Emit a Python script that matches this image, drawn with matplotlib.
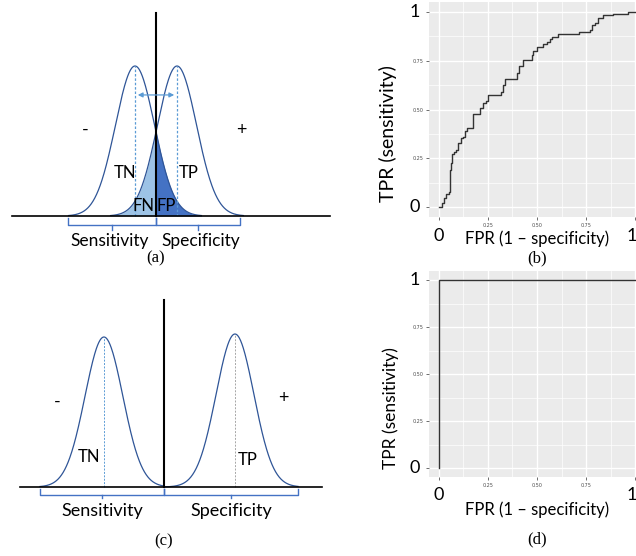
import numpy as np
import matplotlib.pyplot as plt
from matplotlib.ticker import MultipleLocator

# ---- data ----
# (a) overlapping distributions, threshold at 0
a_means = [-1.0, 1.0]
a_sigma = 0.93
a_brackets = [(-4.19, 0.0), (0.0, 4.0)]
a_label_x = [-2.2, 2.15]
# (c) separated distributions
c_means = [-2.86, 3.38]
c_peaks = [1.0, 1.02]
c_sigma = 0.9
c_brackets = [(-5.9, 0.0), (0.0, 6.38)]
bracket_labels = ['Sensitivity', 'Specificity']

# (b) ROC curve
fpr_b = [0, 0.014, 0.026, 0.039, 0.051, 0.056, 0.061, 0.066, 0.077, 0.09, 0.099,
         0.111, 0.124, 0.133, 0.145, 0.175, 0.175, 0.206, 0.209, 0.226, 0.24, 0.252,
         0.3, 0.315, 0.328, 0.338, 0.383, 0.4, 0.41, 0.427, 0.464, 0.473, 0.481,
         0.498, 0.524, 0.532, 0.553, 0.566, 0.578, 0.609, 0.672, 0.714, 0.77, 0.779,
         0.796, 0.813, 0.835, 0.889, 0.961, 1.0]
tpr_b = [0, 0.022, 0.045, 0.07, 0.078, 0.19, 0.224, 0.27, 0.284, 0.292, 0.33,
         0.352, 0.36, 0.391, 0.403, 0.403, 0.477, 0.477, 0.509, 0.532, 0.545, 0.574,
         0.574, 0.591, 0.626, 0.655, 0.655, 0.686, 0.723, 0.752, 0.752, 0.779, 0.8,
         0.822, 0.822, 0.834, 0.843, 0.86, 0.873, 0.885, 0.885, 0.899, 0.908, 0.933,
         0.945, 0.968, 0.981, 0.99, 1.0, 1.0]
# (d) perfect classifier
fpr_d = [0, 0, 1]
tpr_d = [0, 1, 1]
roc_ticks = [0, 0.25, 0.5, 0.75, 1]
roc_ticklabels = ['', '0.25', '0.50', '0.75', '']

LINE = '#2F5597'
LIGHT = '#9DC3E6'
DARK = '#4472C4'
DASH = '#5B9BD5'
SANS = 'Lato'
SERIF = 'Liberation Serif'


def gauss(x, m, s, h=1.0):
    return h * np.exp(-(x - m) ** 2 / (2 * s ** 2))


def bracket(ax, x0, x1, y, ytop, ybot):
    xm = (x0 + x1) / 2
    ax.plot([x0, x0, x1, x1], [ytop, y, y, ytop], color=DARK, lw=1.0)
    ax.plot([xm, xm], [y, ybot], color=DARK, lw=1.0)


fig = plt.figure(figsize=(6.36, 5.56), dpi=100)

# ---------- (a) ----------
ax = fig.add_axes([0, 1 - 270 / 556, 340 / 636, 270 / 556])
ax.set_xlim(-156 / 21, 184 / 21)
ax.set_ylim(-54 / 150, 216 / 150)
ax.axis('off')
xl = np.linspace(a_means[0] - 3.4 * a_sigma, a_means[0] + 3.4 * a_sigma, 300)
xr = np.linspace(a_means[1] - 3.4 * a_sigma, a_means[1] + 3.4 * a_sigma, 300)
yl = gauss(xl, a_means[0], a_sigma)
yr = gauss(xr, a_means[1], a_sigma)
ax.fill_between(xr, yr, where=xr <= 0, color=LIGHT, lw=0)
ax.fill_between(xl, yl, where=xl >= 0, color=DARK, lw=0)
ax.plot(xl, yl, color=LINE, lw=0.9)
ax.plot(xr, yr, color=LINE, lw=0.9)
for m in a_means:
    ax.plot([m, m], [0, 1], color=DASH, lw=0.9, ls=(0, (2, 1.5)))
ax.annotate('', xy=(a_means[1], 0.807), xytext=(a_means[0], 0.807),
            arrowprops=dict(arrowstyle='<|-|>', color=DASH, lw=0.9, mutation_scale=7))
ax.plot([-6.86, 8.3], [0, 0], color='black', lw=1.2)
ax.plot([0, 0], [0, 1.353], color='black', lw=1.5)
for (x0, x1), lx, lab in zip(a_brackets, a_label_x, bracket_labels):
    bracket(ax, x0, x1, -0.06, -0.013, -0.095)
    ax.text(lx, -0.165, lab, ha='center', va='center', fontsize=12.5, family=SANS)
ax.text(-3.38, 0.573, '-', ha='center', va='center', fontsize=13, family=SANS)
ax.text(4.05, 0.573, '+', ha='center', va='center', fontsize=13, family=SANS)
ax.text(-1.48, 0.287, 'TN', ha='center', va='center', fontsize=12, family=SANS)
ax.text(1.55, 0.287, 'TP', ha='center', va='center', fontsize=12, family=SANS)
ax.text(-0.6, 0.067, 'FN', ha='center', va='center', fontsize=12, family=SANS)
ax.text(0.5, 0.067, 'FP', ha='center', va='center', fontsize=12, family=SANS)
ax.text(0, -0.28, '(a)', ha='center', va='center', fontsize=12, family=SERIF)

# ---------- (c) ----------
ax = fig.add_axes([0, 0, 340 / 636, 276 / 556])
ax.set_xlim(-164 / 21, 176 / 21)
ax.set_ylim(-69 / 150, 207 / 150)
ax.axis('off')
xl = np.linspace(c_means[0] - 3.05, 0, 300)
xr = np.linspace(0, c_means[1] + 3.0, 300)
ax.plot(xl, gauss(xl, c_means[0], c_sigma, c_peaks[0]), color=LINE, lw=0.9)
ax.plot(xr, gauss(xr, c_means[1], c_sigma, c_peaks[1]), color=LINE, lw=0.9)
ax.plot([c_means[0]] * 2, [0, c_peaks[0]], color=DASH, lw=0.7, ls=(0, (2, 1.5)))
ax.plot([c_means[1]] * 2, [0, c_peaks[1]], color='#A6A6A6', lw=0.7, ls=(0, (2, 1.5)))
ax.plot([-6.86, 7.52], [0, 0], color='black', lw=1.2)
ax.plot([0, 0], [0, 1.247], color='black', lw=1.5)
for (x0, x1), lab in zip(c_brackets, bracket_labels):
    bracket(ax, x0, x1, -0.053, -0.013, -0.073)
    ax.text((x0 + x1) / 2, -0.157, lab, ha='center', va='center', fontsize=13, family=SANS)
ax.text(-5.1, 0.567, '-', ha='center', va='center', fontsize=13, family=SANS)
ax.text(5.67, 0.593, '+', ha='center', va='center', fontsize=13, family=SANS)
ax.text(-3.57, 0.2, 'TN', ha='center', va='center', fontsize=12, family=SANS)
ax.text(4.0, 0.18, 'TP', ha='center', va='center', fontsize=12, family=SANS)
ax.text(0, -0.36, '(c)', ha='center', va='center', fontsize=12, family=SERIF)


# ---------- ROC panels ----------
def roc_axes(rect, fpr, tpr, lbl, tpr_y, tpr_x, tpr_size, y0, y_fpr, y_lab):
    ax = fig.add_axes(rect)
    ax.set_facecolor('#EBEBEB')
    for s in ax.spines.values():
        s.set_visible(False)
    ax.set_xlim(-0.05, 1.05)
    ax.set_ylim(-0.05, 1.05)
    ax.set_xticks(roc_ticks)
    ax.set_yticks(roc_ticks)
    ax.set_xticklabels(roc_ticklabels)
    ax.set_yticklabels(roc_ticklabels)
    ax.xaxis.set_minor_locator(MultipleLocator(0.125))
    ax.yaxis.set_minor_locator(MultipleLocator(0.125))
    ax.tick_params(which='major', length=2, width=0.5, color='#333333',
                   labelsize=3.5, labelcolor='#4D4D4D', pad=2)
    ax.tick_params(which='minor', length=0)
    ax.grid(which='major', color='white', lw=1.0)
    ax.grid(which='minor', color='white', lw=0.5)
    ax.set_axisbelow(True)
    ax.plot(fpr, tpr, color='#333333', lw=1.0, drawstyle='steps-post')
    kw = dict(ha='center', va='center', clip_on=False, family=SANS)
    ax.text(-0.122, 0, '0', fontsize=13, **kw)
    ax.text(-0.122, 1, '1', fontsize=13, **kw)
    ax.text(0, y0, '0', fontsize=13, **kw)
    ax.text(0.98, y0, '1', fontsize=13, **kw)
    ax.text(tpr_x, tpr_y, 'TPR (sensitivity)', rotation=90, fontsize=tpr_size, **kw)
    ax.text(0.5, y_fpr, 'FPR (1 – specificity)', fontsize=12, **kw)
    ax.text(0.5, y_lab, lbl, ha='center', va='center', clip_on=False,
            fontsize=12, family=SERIF)
    return ax


roc_axes([429 / 636, 1 - 217 / 556, 216 / 636, 215 / 556], fpr_b, tpr_b, '(b)',
         0.377, -0.26, 14, -0.149, -0.159, -0.262)
roc_axes([429 / 636, 1 - 477.4 / 556, 216 / 636, 206.8 / 556], fpr_d, tpr_d, '(d)',
         0.32, -0.245, 12.5, -0.144, -0.223, -0.378)

fig.savefig('out.png', dpi=100)
